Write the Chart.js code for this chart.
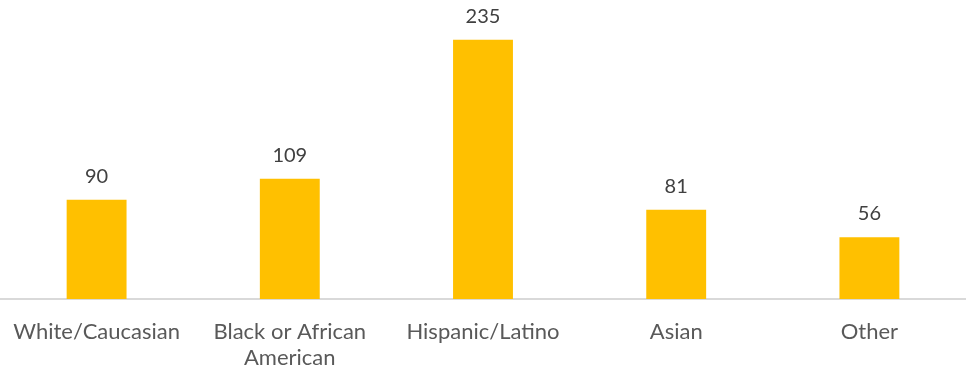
<!doctype html>
<html lang="en">
  <head>
    <meta charset="UTF-8" />
    <title>Ethnicity</title>
    <script src="https://cdn.jsdelivr.net/npm/chart.js"></script>
    <style>
      html, body { margin: 0; padding: 0; background: #ffffff; }
      #wrap { width: 966px; height: 373px; position: relative; }
    </style>
  </head>
  <body>
    <div id="wrap"><canvas id="ethChart"></canvas></div>
    <script>
      const categories = [
        "White/Caucasian",
        ["Black or African", "American"],
        "Hispanic/Latino",
        "Asian",
        "Other",
      ];
      const counts = [90, 109, 235, 81, 56];

      // draws the number above each bar
      const valueLabels = {
        id: "valueLabels",
        afterDatasetsDraw(chart) {
          const ctx = chart.ctx;
          const meta = chart.getDatasetMeta(0);
          ctx.save();
          ctx.font = "20px Lato, 'Open Sans', sans-serif";
          ctx.fillStyle = "#404040";
          ctx.textAlign = "center";
          ctx.textBaseline = "alphabetic";
          meta.data.forEach((bar, i) => {
            ctx.fillText(counts[i], bar.x, bar.y - 17);
          });
          ctx.restore();
        },
      };

      new Chart(document.getElementById("ethChart"), {
        type: "bar",
        data: {
          labels: categories,
          datasets: [
            {
              data: counts,
              backgroundColor: "#FFC000",
              barPercentage: 0.31,
              categoryPercentage: 1,
            },
          ],
        },
        options: {
          responsive: true,
          maintainAspectRatio: false,
          animation: false,
          layout: { padding: 0 },
          plugins: { legend: { display: false }, tooltip: { enabled: false } },
          scales: {
            x: {
              grid: { display: false },
              border: { color: "#d9d9d9", width: 2 },
              ticks: {
                color: "#595959",
                font: { family: "Lato, 'Open Sans', sans-serif", size: 22, lineHeight: 1.18 },
                padding: 12,
                maxRotation: 0,
                autoSkip: false,
              },
              afterFit(scale) {
                scale.height = 74;
              },
            },
            y: { display: false, min: 0, max: 271 },
          },
        },
        plugins: [valueLabels],
      });
    </script>
  </body>
</html>
